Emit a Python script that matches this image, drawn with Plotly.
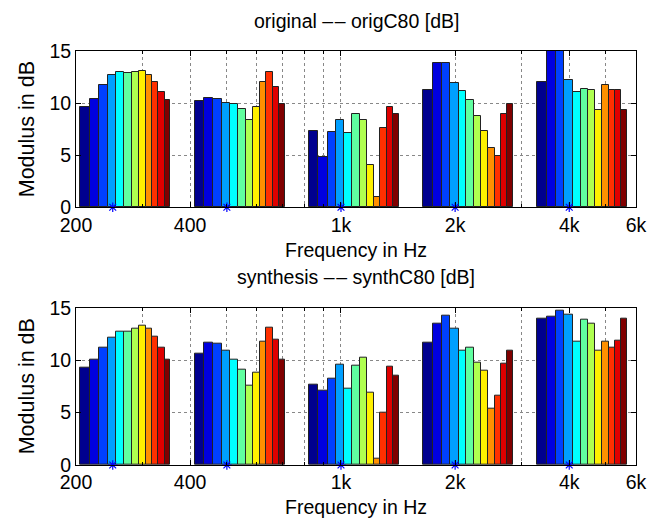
import numpy as np
import plotly.graph_objects as go
from plotly.subplots import make_subplots

# ---- data ----
band_centers = [250, 500, 1000, 2000, 4000]           # Hz (octave centres, marked with *)
tick_freqs = [200, 400, 1000, 2000, 4000, 6000]
tick_labels = ["200", "400", "1k", "2k", "4k", "6k"]
minor_freqs = [300, 500, 600, 700, 800, 900, 3000, 5000]

orig_250 = [9.67, 10.44, 11.72, 12.68, 13.00, 12.90, 13.03, 13.12, 12.74, 12.04, 11.11, 10.25]
orig_500 = [10.18, 10.50, 10.44, 10.03, 9.87, 9.48, 8.37, 9.67, 12.04, 12.96, 11.56, 9.90]
orig_1k = [7.31, 4.82, 7.18, 8.33, 7.15, 8.91, 8.33, 4.02, 0.99, 7.63, 9.64, 8.91]
orig_2k = [11.21, 13.89, 13.89, 11.97, 11.17, 10.31, 8.75, 7.28, 5.68, 4.92, 8.91, 9.87]
orig_4k = [12.00, 15.60, 15.90, 12.23, 11.08, 11.40, 11.21, 9.32, 11.78, 11.24, 11.30, 9.29]

synth_250 = [9.24, 10.00, 11.21, 12.17, 12.68, 12.74, 12.99, 13.25, 12.96, 12.26, 11.15, 10.06]
synth_500 = [10.64, 11.62, 11.59, 10.86, 10.00, 9.11, 7.52, 8.76, 11.78, 13.09, 11.94, 10.06]
synth_1k = [7.68, 7.10, 8.25, 9.59, 7.32, 9.49, 10.22, 6.88, 0.57, 5.00, 9.36, 8.54]
synth_2k = [11.62, 13.50, 14.24, 12.99, 10.92, 11.15, 9.75, 8.95, 5.38, 6.59, 9.68, 10.86]
synth_4k = [13.92, 14.17, 14.71, 14.36, 11.72, 13.82, 13.47, 10.92, 11.72, 11.21, 11.88, 13.98]

orig_bands = [orig_250, orig_500, orig_1k, orig_2k, orig_4k]
synth_bands = [synth_250, synth_500, synth_1k, synth_2k, synth_4k]

# relative extent of each group of 12 linearly spaced bars around its centre frequency
REL_LO, REL_HI = 0.822, 1.420

JET = ['#00008F', '#0000DF', '#0040FF', '#009FFF', '#00FFFF', '#60FFA0',
       '#AFFF50', '#FFF000', '#FF9000', '#FF3000', '#DF0000', '#800000']

FONT = "Liberation Sans, Arial, Helvetica, sans-serif"
FS = 19.5
GRID = '#888'

fig = make_subplots(rows=2, cols=1, vertical_spacing=0.0)

for row, bands in ((1, orig_bands), (2, synth_bands)):
    for fc, vals in zip(band_centers, bands):
        n = len(vals)
        edges = fc * np.linspace(REL_LO, REL_HI, n + 1)
        le = np.log10(edges)
        centers = (le[:-1] + le[1:]) / 2
        widths = le[1:] - le[:-1]
        fig.add_trace(go.Bar(x=centers, y=vals, width=widths, base=0,
                             marker=dict(color=JET, line=dict(color='#222', width=1)),
                             showlegend=False), row=row, col=1)
    fig.add_trace(go.Scatter(x=np.log10(band_centers), y=[0] * len(band_centers),
                             mode='markers', cliponaxis=False,
                             marker=dict(symbol='asterisk-open', size=8, color='#0000FF',
                                         line=dict(color='#0000FF', width=1.2)),
                             showlegend=False), row=row, col=1)

xa = dict(range=[np.log10(200), np.log10(6000)], tickmode='array',
          tickvals=list(np.log10(tick_freqs)), ticktext=tick_labels,
          ticks='inside', ticklen=5, tickcolor='black', mirror='ticks',
          showline=True, linecolor='black', linewidth=1,
          showgrid=True, gridcolor=GRID, griddash='dot', gridwidth=1,
          zeroline=False, tickfont=dict(size=FS, color='black', family=FONT),
          minor=dict(tickmode='array', tickvals=list(np.log10(minor_freqs)),
                     ticks='inside', ticklen=3, tickcolor='black',
                     showgrid=True, gridcolor=GRID, griddash='dot', gridwidth=1))
ya = dict(range=[0, 15], tickvals=[0, 5, 10, 15], ticks='inside', ticklen=5,
          tickcolor='black', mirror='ticks', showline=True, linecolor='black',
          linewidth=1, showgrid=True, gridcolor=GRID, griddash='dot', gridwidth=1,
          zeroline=False, tickfont=dict(size=FS, color='black', family=FONT))

fig.update_layout(
    width=663, height=520,
    margin=dict(l=76, r=27, t=51, b=55),
    paper_bgcolor='white', plot_bgcolor='white',
    bargap=0, barmode='overlay',
    xaxis=dict(xa, domain=[0, 1]), xaxis2=dict(xa, domain=[0, 1]),
    yaxis=dict(ya, domain=[0.6225, 1.0]), yaxis2=dict(ya, domain=[0.0, 0.38]),
    font=dict(family=FONT, size=FS, color='black'),
)

DASH = "–\u200a–"
ann = [
    dict(text=f"original {DASH} origC80 [dB]", x=0.5, y=1.0725),
    dict(text="Frequency in Hz", x=0.5, y=0.519),
    dict(text=f"synthesis {DASH} synthC80 [dB]", x=0.5, y=0.454),
    dict(text="Frequency in Hz", x=0.5, y=-0.101),
]
for a in ann:
    fig.add_annotation(xref='paper', yref='paper', showarrow=False,
                       xanchor='center', yanchor='middle',
                       font=dict(size=FS, color='black', family=FONT), **a)
for yc in (0.811, 0.19):
    fig.add_annotation(text="Modulus in dB", xref='paper', yref='paper',
                       x=-0.0875, y=yc, textangle=-90, showarrow=False,
                       xanchor='center', yanchor='middle',
                       font=dict(size=21.5, color='black', family=FONT))

fig.write_html("out.html", config={'displayModeBar': False},
               post_script="document.body.style.margin='0';")
